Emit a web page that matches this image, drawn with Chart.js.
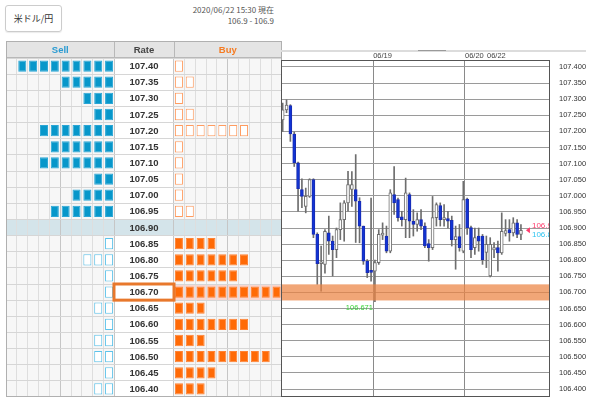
<!DOCTYPE html>
<html>
<head>
<meta charset="utf-8">
<script src="https://cdn.jsdelivr.net/npm/chart.js@4.4.0/dist/chart.umd.min.js"></script>
<style>
    html, body { margin: 0; padding: 0; background: #fff; }
    body { width: 590px; height: 401px; position: relative; overflow: hidden; font-family: 'Noto Sans CJK JP', 'Noto Sans', sans-serif; }
    .pair { position: absolute; left: 5px; top: 5px; width: 55px; height: 25px; border: 1px solid #ccc; border-radius: 3px; font-size: 9px; line-height: 25px; text-align: center; color: #333; box-shadow: 0 1px 1px rgba(0,0,0,0.08); }
    .stamp { position: absolute; right: 316px; top: 4px; text-align: right; font-size: 8px; line-height: 11px; color: #555; white-space: nowrap; }
    #tableChart { position: absolute; left: 6px; top: 41px; }
    #candleChart { position: absolute; left: 281px; top: 40px; }
</style>
</head>
<body>
<div class="pair">米ドル/円</div>
<div class="stamp">2020/06/22 15:30 現在<br>106.9 - 106.9</div>
<canvas id="tableChart" width="276" height="356"></canvas>
<canvas id="candleChart" width="309" height="361"></canvas>
<script>
// Order book rows
const rates = ['107.40', '107.35', '107.30', '107.25', '107.20', '107.15', '107.10', '107.05', '107.00', '106.95', '106.90',
               '106.85', '106.80', '106.75', '106.70', '106.65', '106.60', '106.55', '106.50', '106.45', '106.40'];
const sellCounts = [9, 5, 3, 2, 7, 6, 7, 2, 4, 6, 0, 1, 3, 1, 1, 2, 1, 2, 2, 1, 2];
const buyCounts  = [1, 2, 1, 2, 7, 1, 1, 1, 1, 2, 0, 4, 7, 6, 10, 3, 7, 3, 9, 4, 3];
const currentRate = '106.90';
const markedRate = '106.70';

// Candles (oldest first)
const candleOpen  = [107.236, 107.267, 107.280, 107.192, 107.102, 107.019, 106.967, 106.998, 107.050, 106.880,
                     106.789, 106.787, 106.885, 106.859, 106.833, 106.895, 106.926, 106.978, 107.020, 107.019,
                     106.983, 106.906, 106.797, 106.766, 106.766, 106.792, 106.878, 106.875, 106.828, 107.004,
                     106.988, 106.935, 106.926, 107.004, 106.921, 106.911, 106.926, 106.906, 106.852, 106.839,
                     106.932, 106.970, 106.926, 106.929, 106.924, 106.864, 106.873, 106.828, 106.990, 106.901,
                     106.839, 106.875, 106.875, 106.824, 106.751, 106.832, 106.839, 106.823, 106.883, 106.895,
                     106.885, 106.916, 106.880];
const candleHigh  = [107.288, 107.298, 107.283, 107.198, 107.105, 107.053, 107.024, 107.053, 107.053, 106.885,
                     106.844, 106.895, 106.937, 106.875, 106.900, 106.978, 106.985, 107.076, 107.075, 107.128,
                     106.994, 106.906, 106.802, 106.993, 106.800, 106.895, 106.916, 106.906, 107.019, 107.091,
                     106.993, 106.952, 107.055, 107.009, 106.957, 106.947, 106.957, 106.916, 106.864, 106.998,
                     106.978, 106.978, 106.973, 106.952, 106.937, 106.906, 106.911, 107.045, 106.993, 106.906,
                     106.900, 106.900, 106.880, 106.875, 106.870, 106.855, 106.859, 106.947, 106.926, 106.926,
                     106.932, 106.926, 106.911];
const candleLow   = [107.200, 107.258, 107.169, 107.091, 106.952, 106.963, 106.947, 106.995, 106.870, 106.725,
                     106.704, 106.760, 106.818, 106.751, 106.808, 106.864, 106.859, 106.952, 106.967, 106.855,
                     106.854, 106.787, 106.746, 106.735, 106.671, 106.787, 106.864, 106.823, 106.823, 106.942,
                     106.921, 106.906, 106.870, 106.870, 106.875, 106.890, 106.895, 106.839, 106.797, 106.833,
                     106.906, 106.906, 106.906, 106.900, 106.844, 106.772, 106.828, 106.823, 106.880, 106.808,
                     106.818, 106.828, 106.787, 106.777, 106.748, 106.808, 106.766, 106.818, 106.875, 106.859,
                     106.875, 106.870, 106.864];
const candleClose = [107.267, 107.282, 107.192, 107.102, 107.022, 106.998, 106.998, 107.050, 106.880, 106.789,
                     106.792, 106.890, 106.859, 106.833, 106.895, 106.926, 106.978, 107.035, 107.035, 106.983,
                     106.906, 106.797, 106.761, 106.762, 106.793, 106.880, 106.880, 106.828, 107.009, 106.978,
                     106.932, 106.926, 107.009, 106.921, 106.911, 106.926, 106.906, 106.844, 106.839, 106.932,
                     106.973, 106.926, 106.932, 106.921, 106.864, 106.873, 106.839, 106.988, 106.901, 106.833,
                     106.870, 106.859, 106.802, 106.849, 106.849, 106.839, 106.823, 106.890, 106.892, 106.885,
                     106.916, 106.880, 106.893];
const bidAsk = [106.901, 106.893];

// Axis ticks
const priceTicks = [107.40, 107.35, 107.30, 107.25, 107.20, 107.15, 107.10, 107.05, 107.00, 106.95, 106.90,
                    106.85, 106.80, 106.75, 106.70, 106.65, 106.60, 106.55, 106.50, 106.45, 106.40];
const dateTicks = [23.55, 47.44, 53.16];
const dateLabels = ['06/19', '06/20', '06/22'];

const CELLS = 10;
const RATE_W = 5.44;
const BUY0 = CELLS + RATE_W;
const X_MAX = BUY0 + CELLS;
const cur = rates.indexOf(currentRate);
const NARROW = "'Liberation Sans Narrow', 'Liberation Sans', sans-serif";

Chart.defaults.font.family = "'Liberation Sans', sans-serif";

// Order book table
function sideDatasets(counts, side) {
    const sets = [];
    const filled = rates.map((r, i) => side === 'sell' ? i < cur : i > cur);
    const fill = side === 'sell' ? '#0797ca' : '#ff6a06';
    const edge = side === 'sell' ? '#2aa6d6' : '#ff8233';
    const hollow = side === 'sell' ? '#5cc2ea' : '#ff9c60';
    for (let k = 0; k < CELLS; k++) {
        const lo = side === 'sell' ? CELLS - k - 1 : BUY0 + k;
        sets.push({
            data: counts.map(n => n > k ? [lo + 0.13, lo + 0.87] : null),
            backgroundColor: filled.map(f => f ? fill : '#ffffff'),
            borderColor: filled.map(f => f ? edge : hollow),
            borderWidth: 1,
            borderSkipped: false,
            grouped: false,
            barPercentage: 0.7,
            categoryPercentage: 1
        });
    }
    return sets;
}

const gridStops = [];
for (let k = 0; k <= CELLS; k++) gridStops.push(k);
for (let k = 0; k <= CELLS; k++) gridStops.push(BUY0 + k);

const tableDeco = {
    id: 'tableDeco',
    beforeDraw(chart) {
        const { ctx, chartArea: a, scales: { x, y } } = chart;
        const rowH = (a.bottom - a.top) / rates.length;
        const rateL = x.getPixelForValue(CELLS), rateR = x.getPixelForValue(BUY0);
        ctx.save();
        ctx.fillStyle = '#f7f7f7';
        ctx.fillRect(a.left, a.top, a.right - a.left, a.bottom - a.top);
        ctx.fillStyle = '#ffffff';
        ctx.fillRect(rateL, a.top, rateR - rateL, a.bottom - a.top);
        const cy = y.getPixelForValue(cur);
        ctx.fillStyle = '#d4e4ea';
        ctx.fillRect(a.left, cy - rowH / 2, a.right - a.left, rowH);
        const my = y.getPixelForValue(rates.indexOf(markedRate));
        ctx.fillStyle = '#f9d6cf';
        ctx.fillRect(rateR, my - rowH / 2, a.right - rateR, rowH);
        ctx.fillStyle = '#e4e4e4';
        ctx.fillRect(a.left, 0, a.right - a.left, a.top);
        ctx.restore();
    },
    afterDraw(chart) {
        const { ctx, chartArea: a, scales: { x, y } } = chart;
        const rowH = (a.bottom - a.top) / rates.length;
        const rateL = x.getPixelForValue(CELLS), rateR = x.getPixelForValue(BUY0);
        ctx.save();
        // header
        ctx.strokeStyle = '#b8b8b8';
        ctx.lineWidth = 1;
        ctx.beginPath();
        ctx.moveTo(Math.round(rateL) + 0.5, 0); ctx.lineTo(Math.round(rateL) + 0.5, a.top);
        ctx.moveTo(Math.round(rateR) + 0.5, 0); ctx.lineTo(Math.round(rateR) + 0.5, a.top);
        ctx.moveTo(a.left, Math.round(a.top) - 0.5); ctx.lineTo(a.right, Math.round(a.top) - 0.5);
        ctx.stroke();
        ctx.font = 'bold 9.5px "Liberation Sans"';
        ctx.textAlign = 'center';
        ctx.textBaseline = 'middle';
        const hy = a.top / 2 + 0.5;
        ctx.fillStyle = '#2a9bd2';
        ctx.fillText('Sell', (a.left + rateL) / 2, hy);
        ctx.fillStyle = '#444';
        ctx.fillText('Rate', (rateL + rateR) / 2, hy);
        ctx.fillStyle = '#f57b22';
        ctx.fillText('Buy', (rateR + a.right) / 2, hy);
        // rate labels
        ctx.fillStyle = '#333';
        rates.forEach((r, i) => ctx.fillText(r, (rateL + rateR) / 2, y.getPixelForValue(i) + 0.5));
        // marked rate cell
        const my = y.getPixelForValue(rates.indexOf(markedRate));
        ctx.strokeStyle = '#e8782c';
        ctx.lineWidth = 3;
        ctx.strokeRect(rateL - 0.5, my - rowH / 2, rateR - rateL + 1, rowH);
        // outer border
        ctx.strokeStyle = '#b0b0b0';
        ctx.lineWidth = 1;
        ctx.strokeRect(0.5, 0.5, chart.width - 1, chart.height - 1);
        ctx.restore();
    }
};

new Chart(document.getElementById('tableChart'), {
    type: 'bar',
    data: {
        labels: rates,
        datasets: [...sideDatasets(sellCounts, 'sell'), ...sideDatasets(buyCounts, 'buy')]
    },
    options: {
        indexAxis: 'y',
        responsive: false,
        animation: false,
        devicePixelRatio: 1,
        layout: { padding: { top: 17 } },
        plugins: { legend: { display: false }, tooltip: { enabled: false } },
        scales: {
            x: {
                type: 'linear', min: 0, max: X_MAX,
                afterBuildTicks: axis => { axis.ticks = gridStops.map(v => ({ value: v })); },
                ticks: { display: false },
                grid: {
                    drawTicks: false,
                    color: c => (c.tick && (c.tick.value === CELLS || c.tick.value === BUY0 || c.tick.value === 5 || Math.abs(c.tick.value - BUY0 - 5) < 0.01)) ? '#c6c6c6' : '#dedede'
                },
                border: { display: false }
            },
            y: {
                ticks: { display: false },
                grid: { drawTicks: false, color: '#d6d6d6' },
                border: { display: false }
            }
        }
    },
    plugins: [tableDeco]
});

// Candlestick chart
const idx = candleOpen.map((o, i) => i);
const upCandle = idx.map(i => candleClose[i] >= candleOpen[i]);

const candleDeco = {
    id: 'candleDeco',
    afterDatasetsDraw(chart) {
        const { ctx, chartArea: a, scales: { x, y } } = chart;
        ctx.save();
        ctx.beginPath();
        ctx.rect(a.left, a.top, a.right - a.left, a.bottom - a.top);
        ctx.clip();
        // band at the marked rate
        const m = parseFloat(markedRate);
        const bt = y.getPixelForValue(m + 0.025), bb = y.getPixelForValue(m - 0.025);
        ctx.fillStyle = 'rgba(236, 132, 66, 0.72)';
        ctx.fillRect(a.left, bt, a.right - a.left, bb - bt);
        // lowest low label
        const lowIdx = candleLow.indexOf(Math.min(...candleLow));
        ctx.font = '7.5px ' + NARROW;
        ctx.fillStyle = '#3ad23a';
        ctx.textAlign = 'right';
        ctx.textBaseline = 'top';
        ctx.fillText(candleLow[lowIdx].toFixed(3), x.getPixelForValue(lowIdx) - 2, y.getPixelForValue(candleLow[lowIdx]) + 2);
        // current price marker
        const last = candleClose.length - 1;
        const lx = x.getPixelForValue(last) + 5, ly = y.getPixelForValue(candleClose[last]);
        ctx.fillStyle = '#ff3d6e';
        ctx.beginPath();
        ctx.moveTo(lx, ly); ctx.lineTo(lx + 4, ly - 3); ctx.lineTo(lx + 4, ly + 3); ctx.closePath();
        ctx.fill();
        ctx.font = '8px ' + NARROW;
        ctx.textAlign = 'left';
        ctx.textBaseline = 'middle';
        ctx.fillText(bidAsk[0].toFixed(3), lx + 6, ly - 4);
        ctx.fillStyle = '#2ec4f0';
        ctx.fillText(bidAsk[1].toFixed(3), lx + 6, ly + 4.5);
        ctx.restore();
        // frame
        ctx.save();
        ctx.strokeStyle = '#555';
        ctx.lineWidth = 1;
        ctx.strokeRect(Math.round(a.left) - 0.5, Math.round(a.top) + 0.5, Math.round(a.right - a.left) + 1, Math.round(a.bottom - a.top) - 1);
        ctx.restore();
    },
    afterDraw(chart) {
        const { ctx } = chart;
        ctx.save();
        ctx.fillStyle = '#dcdcdc';
        ctx.fillRect(0, 10, 305, 2);
        ctx.fillStyle = '#9a9a9a';
        ctx.fillRect(137, 10, 28, 1);
        ctx.restore();
    }
};

new Chart(document.getElementById('candleChart'), {
    type: 'bar',
    data: {
        datasets: [
            {
                data: idx.map(i => ({ x: i, y: [candleOpen[i], candleClose[i]] })),
                backgroundColor: upCandle.map(u => u ? '#ffffff' : '#1034d6'),
                borderColor: upCandle.map(u => u ? '#6e6e6e' : '#1a2cb0'),
                borderWidth: 1,
                borderSkipped: false,
                barThickness: 3,
                minBarLength: 2,
                grouped: false
            },
            {
                data: idx.map(i => ({ x: i, y: [candleLow[i], candleHigh[i]] })),
                backgroundColor: '#6e6e6e',
                borderWidth: 0,
                barThickness: 1,
                grouped: false
            }
        ]
    },
    options: {
        responsive: false,
        animation: false,
        devicePixelRatio: 1,
        layout: { padding: { left: 1, bottom: 4 } },
        plugins: { legend: { display: false }, tooltip: { enabled: false } },
        scales: {
            x: {
                type: 'linear', position: 'top', min: -0.18, max: 69.3, offset: false,
                afterBuildTicks: axis => { axis.ticks = dateTicks.map(v => ({ value: v })); },
                afterFit: axis => { axis.height = 20; axis.paddingLeft = 0; axis.paddingRight = 0; },
                ticks: {
                    callback: (v, i) => dateLabels[i],
                    autoSkip: false, maxRotation: 0, align: 'start', padding: 0,
                    font: { size: 7.5, family: NARROW }, color: '#444'
                },
                grid: { offset: false, drawTicks: false, color: c => c.index === 2 ? 'rgba(0,0,0,0)' : '#8a8a8a' },
                border: { display: false }
            },
            y: {
                type: 'linear', position: 'right', min: 106.3752, max: 107.4217,
                afterBuildTicks: axis => { axis.ticks = priceTicks.map(v => ({ value: v })); },
                afterFit: axis => { axis.width = 41; axis.paddingTop = 0; axis.paddingBottom = 0; },
                ticks: { callback: v => v.toFixed(3), padding: 10, font: { size: 7.5, family: NARROW }, color: '#333' },
                grid: { drawTicks: false, color: '#9a9a9a' },
                border: { display: false }
            }
        }
    },
    plugins: [candleDeco]
});
</script>
</body>
</html>
